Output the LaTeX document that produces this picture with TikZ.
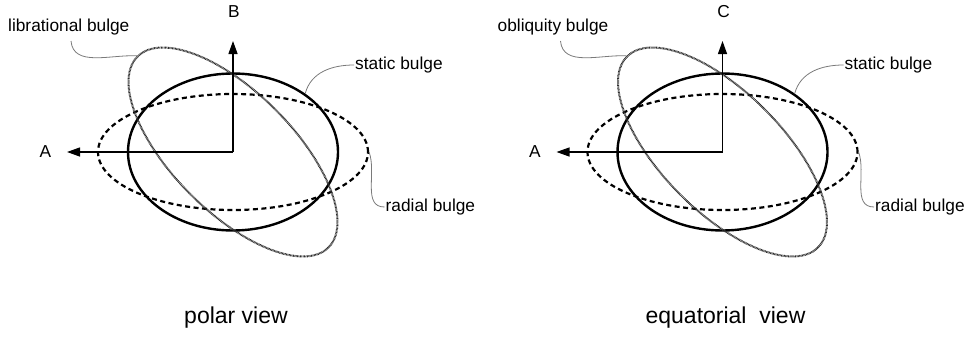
\documentclass[tikz,border=0pt]{standalone}
\usepackage{fontspec}
\setmainfont{Liberation Sans}
\usepackage{xcolor}
\usetikzlibrary{positioning, arrows.meta, shapes.geometric}
\definecolor{dotgray}{HTML}{2E2E2E}
\definecolor{leadgray}{HTML}{7A7A7A}

\tikzset{
  bulge/.style={draw, ellipse, inner sep=0pt},
  staticb/.style={bulge, line width=2.4pt, minimum width=210pt, minimum height=157pt},
  radialb/.style={bulge, line width=2.2pt, dash pattern=on 5pt off 3.5pt,
                  minimum width=270pt, minimum height=116pt},
  tiltb/.style={bulge, draw=dotgray, line width=2pt, dash pattern=on 0.8pt off 0.6pt,
                minimum width=270pt, minimum height=120pt, rotate=-45},
  axis/.style={line width=1.3pt, -{Triangle[length=13pt,width=9pt]}},
  leader/.style={draw=leadgray, line width=0.8pt},
  lbl/.style={font=\fontsize{17.3}{20}\selectfont, inner sep=1pt},
  viewlbl/.style={font=\fontsize{23}{28}\selectfont},
}

\begin{document}
\begin{tikzpicture}[x=1pt, y=1pt]
  \useasboundingbox (0,0) rectangle (968,341);
  \foreach \cx/\up/\tilt/\view in {233/B/librational bulge/polar view,
                                    722.5/C/obliquity bulge/equatorial\ \ view}{
    \begin{scope}[shift={(\cx,189)}, name prefix=\up-]
      % the three bulges
      \coordinate (o) at (0,0);
      \node[radialb] (radial) at (o) {};
      \node[staticb] (static) at (o) {};
      \node[tiltb] (tilt) at (o) {};
      % axes
      \coordinate (tipA) at (-166,0);
      \coordinate (tipV) at (0,111);
      \draw[axis] (o) -- (tipA);
      \draw[axis] (o) -- (tipV);
      \node[lbl] (A) at (-187.5,0) {A};
      \node[lbl] (V) at (1,140) {\up};
      % labels
      \node[lbl, anchor=west] (tiltlbl) at (-226,125) {\tilt};
      \node[lbl, anchor=west] (staticlbl) at (121,87) {static bulge};
      \node[lbl, anchor=west] (radiallbl) at (151.5,-55) {radial bulge};
      \node[viewlbl] (view) at (3,-166) {\view};
      % leaders
      \coordinate (tiltfoot) at (-162,111);
      \draw[leader] (tiltfoot) to[out=-85, in=177] (tilt.west);
      \draw[leader] (staticlbl.west) to[out=180, in=75] (static.39);
      \draw[leader] (radial.east) to[out=-70, in=180] (radiallbl.west);
    \end{scope}
  }
\end{tikzpicture}
\end{document}
